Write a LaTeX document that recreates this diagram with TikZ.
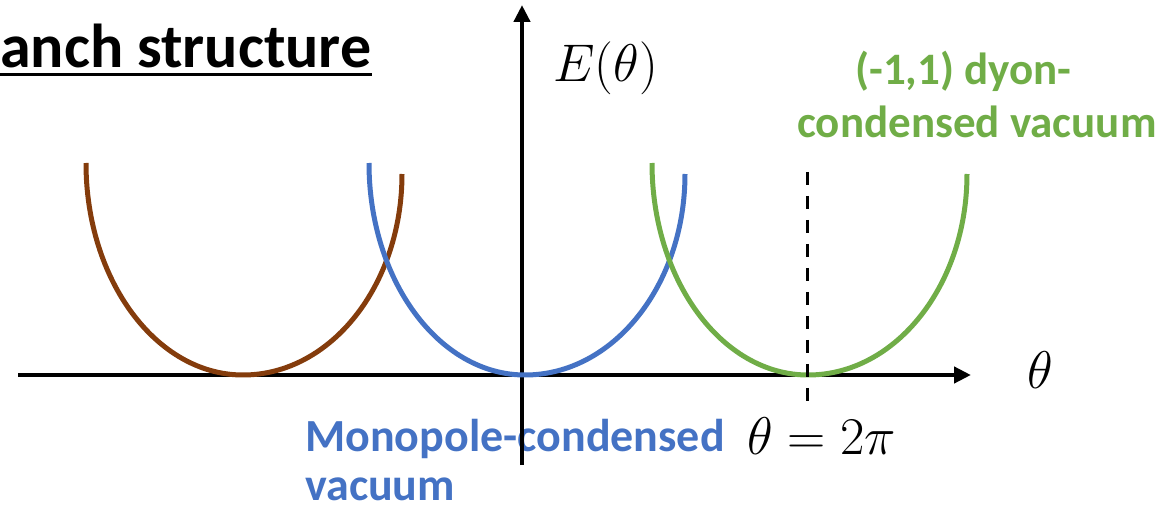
\RequirePackage{fix-cm}
\documentclass[tikz,border=0pt]{standalone}
\usepackage{fontspec}
\setmainfont{Carlito}
\usetikzlibrary{arrows.meta}
\definecolor{cbrown}{HTML}{843C0C}
\definecolor{cblue}{HTML}{4472C4}
\definecolor{cgreen}{HTML}{70AD47}
\tikzset{
  axis/.style={line width=4.5pt,-{Triangle[length=17pt,width=16pt]}},
  curve/.style={line width=5pt},
  lbl/.style={inner sep=0pt,anchor=base west,font=\fontsize{45}{54}\selectfont\bfseries},
  mlbl/.style={inner sep=0pt,anchor=base west,font=\fontsize{53}{60}\selectfont},
}
\begin{document}
\begin{tikzpicture}[x=1pt,y=1pt]
\useasboundingbox (0,0) rectangle (1163,512);
% texts
\node[lbl,font=\fontsize{62}{70}\selectfont\bfseries] (title) at (0,444) {anch structure};
\draw[line width=3pt] ([yshift=-7pt]title.base west) -- ([yshift=-7pt]title.base east);
\node[mlbl] (elab) at (553,430) {$E(\theta)$};
\node[mlbl] (tlab) at (1027,123) {$\theta$};
\node[mlbl] (tpi) at (747,57) {$\theta=2\pi$};
\node[lbl,text=cgreen] (g1) at (855,427) {(-1,1) dyon-};
\node[lbl,text=cgreen] (g2) at (797,374) {condensed vacuum};
\node[lbl,text=cblue,font=\fontsize{46}{54}\selectfont\bfseries] (b1) at (305,60) {Monopole-condensed};
\node[lbl,text=cblue,font=\fontsize{46}{54}\selectfont\bfseries] (b2) at (305,12) {vacuum};
% axes
\coordinate (xs) at (18,137);
\coordinate (xe) at (971,137);
\coordinate (ys) at (522,47);
\coordinate (ye) at (522,507);
\draw[axis] (xs) -- (xe);
\draw[axis] (ys) -- (ye);
% curves
\draw[curve,cbrown] (86,349) arc[start angle=180,end angle=270,x radius=157,y radius=212]
  arc[start angle=270,end angle=360,x radius=159,y radius=201];
\draw[curve,cblue] (369,349) arc[start angle=180,end angle=270,x radius=156,y radius=212]
  arc[start angle=270,end angle=360,x radius=160,y radius=201];
\draw[curve,cgreen] (652,349) arc[start angle=180,end angle=270,x radius=156,y radius=212]
  arc[start angle=270,end angle=360,x radius=159,y radius=201];
% dashed
\coordinate (dt) at (807,340);
\coordinate (db) at (807,102);
\draw[line width=3pt,dash pattern=on 13pt off 11pt] (dt) -- (db);
\end{tikzpicture}
\end{document}
